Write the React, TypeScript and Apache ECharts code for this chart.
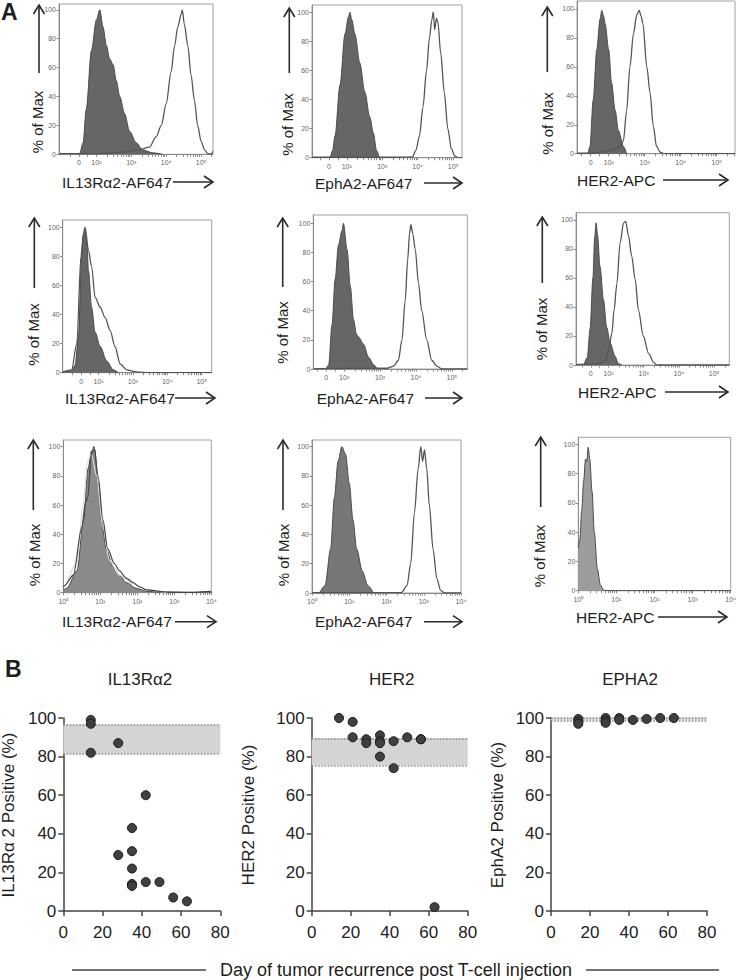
import React, { useEffect, useRef } from "react";
import * as echarts from "echarts";

// ---------- Panel A: axis ticks ----------
const logicleTickPos = [1.5, 2, 3, 4, 5];
const logicleTickLabels = ["0", "10²", "10³", "10⁴", "10⁵"];
const logTickPos = [0, 1, 2, 3, 4];
const logTickLabels = ["10⁰", "10¹", "10²", "10³", "10⁴"];
const pctMaxTicks = [0, 20, 40, 60, 80, 100];
const markerLabels = ["IL13Rα2-AF647", "EphA2-AF647", "HER2-APC"];

// ---------- Panel A: histograms [decade position, % of Max] ----------
const r1Il13Control = [[1.45,0],[1.52,0.5],[1.62,8],[1.71,31],[1.86,72],[2.0,93],[2.1,100],[2.19,88],[2.29,75],[2.38,66],[2.48,62],[2.57,51],[2.67,40],[2.81,28],[2.95,16],[3.14,8],[3.33,3],[3.62,1],[3.9,0]];
const r1Il13Stain = [[0.93,0.5],[2.0,0.5],[2.8,1.5],[3.2,3],[3.52,5],[3.71,12],[3.86,20],[4.0,35],[4.14,57],[4.24,75],[4.33,88],[4.43,97],[4.46,100],[4.52,90],[4.62,75],[4.71,55],[4.81,37],[4.9,20],[5.0,9],[5.1,3],[5.19,0.5],[5.29,0],[5.33,2]];
const r1EphControl = [[1.5,0],[1.54,1],[1.6,5],[1.67,15],[1.81,50],[1.95,85],[2.05,97],[2.09,100],[2.14,95],[2.23,85],[2.37,65],[2.51,45],[2.65,28],[2.75,17],[2.84,5],[2.92,0]];
const r1EphStain = [[1.02,0.3],[3.5,0.3],[3.85,0.5],[3.95,5],[4.05,15],[4.15,35],[4.25,60],[4.33,82],[4.4,95],[4.44,100],[4.48,88],[4.53,96],[4.57,93],[4.65,72],[4.75,45],[4.85,20],[4.95,6],[5.05,1],[5.15,0],[5.25,0]];
const r1HerControl = [[1.43,0],[1.48,5],[1.57,37],[1.67,72],[1.76,93],[1.81,99],[1.86,95],[1.9,90],[2.0,72],[2.08,49],[2.18,30],[2.27,16],[2.41,5],[2.5,0]];
const r1HerStain = [[1.12,0.3],[1.6,0.5],[1.9,1.5],[2.13,3],[2.31,5],[2.41,9],[2.5,30],[2.59,60],[2.69,83],[2.78,96],[2.85,99],[2.9,95],[2.95,90],[3.06,60],[3.15,42],[3.24,19],[3.33,5],[3.43,1],[3.55,0],[5.51,0]];

const r2Il13Control = [[0.96,0.5],[1.18,1],[1.32,5],[1.42,25],[1.51,80],[1.56,95],[1.61,98],[1.66,90],[1.71,70],[1.8,45],[1.9,28],[2.05,18],[2.24,8],[2.43,2],[2.58,0]];
const r2Il13Stain = [[0.96,0.5],[1.22,2],[1.37,20],[1.49,80],[1.56,95],[1.61,100],[1.71,84],[1.8,73],[1.9,52],[2.05,45],[2.19,38],[2.34,29],[2.48,18],[2.63,6],[2.82,2],[3.1,0.5],[3.5,0],[5.29,0]];
const r2EphControl = [[1.5,0],[1.57,3],[1.66,30],[1.75,62],[1.84,85],[1.94,95],[1.98,100],[2.08,82],[2.17,57],[2.26,34],[2.34,24],[2.4,22],[2.54,17],[2.68,8],[2.82,3],[2.92,0]];
const r2EphStain = [[1.14,0.3],[3.2,0.5],[3.38,2],[3.51,6],[3.61,20],[3.7,47],[3.77,75],[3.82,93],[3.86,99],[3.91,93],[3.98,82],[4.07,59],[4.16,40],[4.3,20],[4.44,6],[4.58,2],[4.72,0],[5.43,0]];
const r2HerControl = [[1.3,0],[1.4,5],[1.48,25],[1.56,60],[1.61,88],[1.65,98],[1.69,90],[1.76,68],[1.86,45],[1.95,26],[2.05,15],[2.19,6],[2.28,1],[2.38,0]];
const r2HerStain = [[1.08,0.3],[1.76,1],[1.91,3],[2.0,10],[2.1,22],[2.16,38],[2.24,56],[2.33,84],[2.43,98],[2.49,99],[2.57,89],[2.66,75],[2.76,59],[2.85,38],[2.99,20],[3.14,8],[3.28,2],[3.37,0],[5.43,0]];

const r3Il13Control = [[0,2],[0.09,3],[0.37,15],[0.55,50],[0.67,85],[0.76,97],[0.85,98],[0.94,75],[1.03,50],[1.16,30],[1.34,18],[1.52,12],[1.7,7],[1.97,3],[2.24,1],[2.77,0],[4,0.5]];
const r3Il13Stain = [[0,4],[0.04,5],[0.27,12],[0.5,45],[0.6,62],[0.66,65],[0.76,95],[0.83,100],[0.94,80],[1.07,50],[1.2,30],[1.38,20],[1.52,15],[1.7,10],[1.88,7],[2.06,4],[2.24,2],[2.77,0.5],[3.5,0.3],[3.97,1],[4,0]];
const r3Il13Stain2 = [[0.04,3],[0.37,20],[0.53,60],[0.66,90],[0.76,95],[0.9,80],[1.07,45],[1.25,22],[1.52,12],[1.88,6],[2.24,2],[2.8,0]];
const r3EphControl = [[0.2,0],[0.35,5],[0.5,30],[0.6,65],[0.7,90],[0.8,100],[0.9,95],[1.0,75],[1.1,50],[1.2,30],[1.35,15],[1.5,5],[1.65,0]];
const r3EphStain = [[0,0.3],[2.4,0.3],[2.55,5],[2.65,20],[2.75,55],[2.85,85],[2.92,100],[2.97,90],[3.02,98],[3.08,85],[3.15,60],[3.25,30],[3.35,10],[3.45,2],[3.55,0],[4,0]];
const r3HerControl = [[0,29],[0.04,35],[0.09,55],[0.14,75],[0.19,90],[0.22,88],[0.26,98],[0.3,90],[0.36,68],[0.42,40],[0.5,15],[0.58,4],[0.66,0.5],[0.75,0],[4,0]];

// ---------- Panel B: scatter data ----------
const il13Days = [14, 14, 14, 28, 28, 35, 35, 35, 35, 35, 42, 42, 49, 56, 63];
const il13Positive = [99, 97, 82, 87, 29, 43, 31, 22, 14, 13, 60, 15, 15, 7, 5];
const il13Band = [81.5, 96.5];
const her2Days = [14, 21, 21, 28, 28, 35, 35, 35, 35, 42, 42, 49, 56, 56, 63];
const her2Positive = [100, 98, 90, 89, 87, 91, 88, 87, 80, 88, 74, 90, 89, 89, 2];
const her2Band = [75.5, 89.5];
const epha2Days = [14, 14, 14, 28, 28, 28, 35, 35, 42, 49, 56, 63];
const epha2Positive = [99.5, 98, 97, 100, 98.5, 97.5, 100, 99, 99, 99.5, 100, 100];
const epha2Band = [98.8, 100];
const bTitles = ["IL13Rα2", "HER2", "EPHA2"];
const bYNames = ["IL13Rα 2 Positive (%)", "HER2 Positive (%)", "EphA2 Positive (%)"];
const bXLabel = "Day of tumor recurrence post T-cell injection";

const FONT = "Liberation Sans, Arial, sans-serif";

export default function App() {
  const ref = useRef<HTMLDivElement>(null);
  useEffect(() => {
    if (!ref.current) return;
    const chart = echarts.init(ref.current, undefined, { renderer: "svg" });

    const aPanels = [
      { left: 59, top: 4, width: 154, height: 150.3, xMin: 0.93, xMax: 5.34, yMax: 104, log: false, fill: "#666666" },
      { left: 312, top: 5, width: 150, height: 152.7, xMin: 1.02, xMax: 5.25, yMax: 105, log: false, fill: "#666666" },
      { left: 577, top: 1, width: 158, height: 152.7, xMin: 1.12, xMax: 5.51, yMax: 105.5, log: false, fill: "#666666" },
      { left: 62.7, top: 220, width: 149, height: 152.7, xMin: 0.96, xMax: 5.29, yMax: 105, log: false, fill: "#666666" },
      { left: 313.3, top: 215, width: 154, height: 154, xMin: 1.14, xMax: 5.43, yMax: 105.7, log: false, fill: "#666666" },
      { left: 576, top: 212.7, width: 153.3, height: 152.3, xMin: 1.08, xMax: 5.43, yMax: 105, log: false, fill: "#666666" },
      { left: 63.3, top: 440, width: 148, height: 152.7, xMin: 0, xMax: 4, yMax: 104.6, log: true, fill: "#8a8a8a" },
      { left: 312, top: 440, width: 149, height: 153, xMin: 0, xMax: 4, yMax: 104.6, log: true, fill: "#777777" },
      { left: 578.3, top: 437.3, width: 152.4, height: 153.4, xMin: 0, xMax: 4, yMax: 104.8, log: true, fill: "#9c9c9c" },
    ];
    const bPanels = [
      { left: 63.3, top: 718, width: 157, height: 193 },
      { left: 311.7, top: 718, width: 156, height: 193 },
      { left: 551, top: 718, width: 156, height: 193 },
    ];

    const minorTicks = (log: boolean, lo: number, hi: number) => {
      const out: number[] = [];
      const start = log ? 0 : 2;
      for (let k = start; k <= 5; k++) {
        out.push(k);
        for (let m = 2; m <= 9; m++) out.push(k + Math.log10(m));
      }
      if (!log) out.push(1.5, 1.75, 1.25);
      return out.filter((v) => v >= lo && v <= hi);
    };

    const grids: any[] = [];
    const xAxes: any[] = [];
    const yAxes: any[] = [];
    aPanels.forEach((p, i) => {
      grids.push({ left: p.left, top: p.top, width: p.width, height: p.height, show: true, borderColor: "#a0a0a0", borderWidth: 1, outerBoundsMode: "none" });
      const pos = p.log ? logTickPos : logicleTickPos;
      const labels = p.log ? logTickLabels : logicleTickLabels;
      xAxes.push({
        gridIndex: i, type: "value", min: p.xMin, max: p.xMax,
        axisLine: { show: true, onZero: false, lineStyle: { color: "#8a8a8a", width: 1 } },
        axisTick: { show: true, length: 2.5, customValues: minorTicks(p.log, p.xMin, p.xMax), lineStyle: { color: "#8a8a8a" } },
        axisLabel: {
          show: true, customValues: pos, fontSize: 7, color: "#666", margin: 5, fontFamily: FONT,
          formatter: (v: number) => { const k = pos.findIndex((q) => Math.abs(q - v) < 1e-6); return k >= 0 ? labels[k] : ""; },
        },
        splitLine: { show: false },
      });
      yAxes.push({
        gridIndex: i, type: "value", min: 0, max: p.yMax,
        axisLine: { show: true, onZero: false, lineStyle: { color: "#8a8a8a", width: 1 } },
        axisTick: { show: true, length: 2.5, customValues: pctMaxTicks, lineStyle: { color: "#8a8a8a" } },
        axisLabel: { show: true, customValues: pctMaxTicks, fontSize: 7, color: "#666", margin: 3, fontFamily: FONT },
        splitLine: { show: false },
      });
    });
    bPanels.forEach((p, j) => {
      const i = 9 + j;
      grids.push({ left: p.left, top: p.top, width: p.width, height: p.height, show: false, outerBoundsMode: "none" });
      xAxes.push({
        gridIndex: i, type: "value", min: 0, max: 80, interval: 20,
        axisLine: { show: true, onZero: false, lineStyle: { color: "#444", width: 1.5 } },
        axisTick: { show: true, length: 5, lineStyle: { color: "#444", width: 1.5 } },
        axisLabel: { fontSize: 17, color: "#222", margin: 13, fontFamily: FONT },
        splitLine: { show: false },
      });
      yAxes.push({
        gridIndex: i, type: "value", min: 0, max: 100, interval: 20,
        axisLine: { show: true, onZero: false, lineStyle: { color: "#444", width: 1.5 } },
        axisTick: { show: true, length: 5, lineStyle: { color: "#444", width: 1.5 } },
        axisLabel: { fontSize: 17, color: "#222", margin: 7, fontFamily: FONT },
        splitLine: { show: false },
      });
    });

    const series: any[] = [];
    const filled = (i: number, data: number[][], color: string) => series.push({
      type: "line", xAxisIndex: i, yAxisIndex: i, data, showSymbol: false, symbol: "none",
      smooth: 0.3, smoothMonotone: "x", silent: true, z: 2,
      lineStyle: { color: "#4a4a4a", width: 1 }, areaStyle: { color, opacity: 1 },
    });
    const open = (i: number, data: number[][], color = "#555", width = 1.3) => series.push({
      type: "line", xAxisIndex: i, yAxisIndex: i, data, showSymbol: false, symbol: "none",
      smooth: 0.3, smoothMonotone: "x", silent: true, z: 3,
      lineStyle: { color, width },
    });
    filled(0, r1Il13Control, aPanels[0].fill); open(0, r1Il13Stain);
    filled(1, r1EphControl, aPanels[1].fill); open(1, r1EphStain);
    filled(2, r1HerControl, aPanels[2].fill); open(2, r1HerStain);
    filled(3, r2Il13Control, aPanels[3].fill); open(3, r2Il13Stain);
    filled(4, r2EphControl, aPanels[4].fill); open(4, r2EphStain);
    filled(5, r2HerControl, aPanels[5].fill); open(5, r2HerStain);
    filled(6, r3Il13Control, aPanels[6].fill); open(6, r3Il13Stain2, "#d8d8d8", 1.2); open(6, r3Il13Stain, "#444", 1.2);
    filled(7, r3EphControl, aPanels[7].fill); open(7, r3EphStain);
    filled(8, r3HerControl, aPanels[8].fill);

    const bData = [
      { days: il13Days, vals: il13Positive, band: il13Band },
      { days: her2Days, vals: her2Positive, band: her2Band },
      { days: epha2Days, vals: epha2Positive, band: epha2Band },
    ];
    bData.forEach((b, j) => {
      const i = 9 + j;
      series.push({
        type: "line", xAxisIndex: i, yAxisIndex: i, data: [[0, b.band[0]]], symbol: "none", silent: true, z: 1,
        lineStyle: { opacity: 0 },
        markArea: { silent: true, itemStyle: { color: "#d4d4d4", opacity: 1 }, data: [[{ xAxis: 0, yAxis: b.band[0] }, { xAxis: 80, yAxis: b.band[1] }]] },
        markLine: {
          silent: true, symbol: ["none", "none"], label: { show: false },
          lineStyle: { type: "dotted", color: "#8a8a8a", width: 1.6 },
          data: [{ yAxis: b.band[0] }, { yAxis: b.band[1] }],
        },
      });
      series.push({
        type: "scatter", xAxisIndex: i, yAxisIndex: i, z: 5, symbolSize: 9, clip: false,
        data: b.days.map((d, k) => [d, b.vals[k]]),
        itemStyle: { color: "#404040", borderColor: "#1c1c1c", borderWidth: 1, opacity: 1 },
      });
    });

    const ink = "#2a2a2a";
    const els: any[] = [];
    const text = (x: number, y: number, t: string, size: number, align = "left", rot = 0, weight = "normal") => els.push({
      type: "text", x, y, rotation: rot, silent: true,
      style: { text: t, fontSize: size, fontWeight: weight, fill: "#1e1e1e", textAlign: align, textVerticalAlign: "middle", fontFamily: FONT },
    });
    const vArrow = (x: number, yb: number, yt: number) => {
      els.push({ type: "line", silent: true, shape: { x1: x, y1: yb, x2: x, y2: yt + 1 }, style: { stroke: ink, lineWidth: 1.6 } });
      els.push({ type: "polyline", silent: true, shape: { points: [[x - 5.5, yt + 9], [x, yt], [x + 5.5, yt + 9]] }, style: { stroke: ink, lineWidth: 1.6, fill: null } });
    };
    const hArrow = (x1: number, x2: number, y: number) => {
      els.push({ type: "line", silent: true, shape: { x1, y1: y, x2: x2 - 1, y2: y }, style: { stroke: ink, lineWidth: 1.6 } });
      els.push({ type: "polyline", silent: true, shape: { points: [[x2 - 9, y - 6], [x2, y], [x2 - 9, y + 6]] }, style: { stroke: ink, lineWidth: 1.6, fill: null } });
    };

    // Panel A annotations
    const yNameA = [
      [37.5, 122, 39, 73, 5], [287.5, 124.5, 289.3, 73, 8], [547.5, 123.5, 547.3, 72, 7],
      [33.5, 334.5, 34.3, 288, 218], [282.5, 332.5, 282.7, 287, 218], [541.5, 329, 542.3, 283, 217],
      [34, 555, 33.3, 510, 440], [283, 555, 283, 510, 440], [539.5, 556, 540.7, 507, 437],
    ];
    yNameA.forEach(([tx, ty, ax, ab, at]) => { text(tx, ty, "% of Max", 15, "center", Math.PI / 2); vArrow(ax, ab, at); });
    const xNameA = [
      [62, 182, 173, 213], [315, 183, 424, 462], [577, 180, 663, 728],
      [65, 398, 175, 215], [316.7, 398, 425, 462], [578, 392, 665, 728],
      [62, 621.7, 175, 216], [315, 621.7, 424, 462], [576, 617, 658, 727],
    ];
    xNameA.forEach(([tx, ty, a1, a2], k) => { text(tx, ty, markerLabels[k % 3], 15.5, "left"); hArrow(a1, a2, ty); });
    text(1, 12, "A", 23, "left", 0, "bold");
    text(5, 669, "B", 23, "left", 0, "bold");

    // Panel B annotations
    const bTitleX = [140, 391.7, 630];
    bTitles.forEach((t, j) => text(bTitleX[j], 679, t, 17, "center"));
    const bYNameX = [8, 248, 497];
    bYNames.forEach((t, j) => text(bYNameX[j], 815, t, 17, "center", Math.PI / 2));
    text(396, 970, bXLabel, 18, "center");
    els.push({ type: "line", silent: true, shape: { x1: 72, y1: 970, x2: 206, y2: 970 }, style: { stroke: "#444", lineWidth: 1.3 } });
    els.push({ type: "line", silent: true, shape: { x1: 586, y1: 970, x2: 719, y2: 970 }, style: { stroke: "#444", lineWidth: 1.3 } });

    chart.setOption({
      animation: false,
      backgroundColor: "#ffffff",
      textStyle: { fontFamily: FONT },
      grid: grids,
      xAxis: xAxes,
      yAxis: yAxes,
      series,
      graphic: { elements: els },
    });
    return () => chart.dispose();
  }, []);
  return <div ref={ref} style={{ position: "absolute", left: 0, top: 0, width: 737, height: 980 }} />;
}
